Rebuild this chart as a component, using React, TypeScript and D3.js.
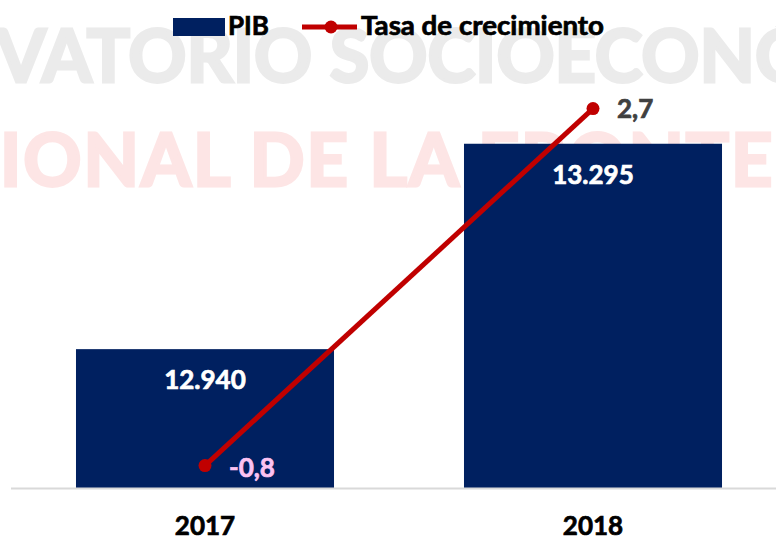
import React from "react";
import * as d3 from "d3";

// chart values
const years = ["2017", "2018"];
const pib = [12940, 13295];
const tasa = [-0.8, 2.7];
const pibLabels = ["12.940", "13.295"];
const tasaLabels = ["-0,8", "2,7"];

const W = 776;
const H = 539;
const FONT = "Lato, 'Open Sans', sans-serif";

const App = () => {
  const x = d3.scaleBand<string>()
    .domain(years)
    .range([11, 787])
    .paddingInner(0.335)
    .paddingOuter(0.1675);

  // primary axis (PIB), not zero based
  const y = d3.scaleLinear().domain([12700, 13400]).range([488, 83]);
  // secondary axis (growth rate)
  const y2 = d3.scaleLinear().domain([-1, 3]).range([486, 78]);

  const cx = (d: string) => (x(d) as number) + x.bandwidth() / 2;

  const line = d3.line<number>()
    .x((_, i) => cx(years[i]))
    .y((d) => y2(d));

  // heavier look for the bold labels
  const bold = (c: string) => ({ fill: c, stroke: c, strokeWidth: 0.7 });

  return (
    <svg width={W} height={H} style={{ position: "absolute", left: 0, top: 0, background: "#fff" }}>
      {/* watermark */}
      <g fontFamily={FONT} fontWeight={700} fontSize={72} strokeWidth={3}>
        <text y={82} fill="#ebebeb" stroke="#ebebeb">
          <tspan x={-4} textAnchor="end">OBSER</tspan>
          <tspan x={-4}>VATORIO SOCIOECONÓMICO</tspan>
        </text>
        <text y={186} fill="#fde5e5" stroke="#fde5e5" letterSpacing={2}>
          <tspan x={0} textAnchor="end">NAC</tspan>
          <tspan x={0}>IONAL DE LA FRONTERA</tspan>
        </text>
      </g>

      {/* bars */}
      {years.map((d, i) => (
        <rect key={d} x={x(d)} y={y(pib[i])} width={x.bandwidth()}
          height={y.range()[0] - y(pib[i])} fill="#002060" />
      ))}

      {/* axis line */}
      <line x1={11} x2={776} y1={488.5} y2={488.5} stroke="#d9d9d9" strokeWidth={2} />

      {/* bar labels */}
      {years.map((d, i) => (
        <text key={d} x={cx(d)} y={y(pib[i]) + 40} textAnchor="middle" {...bold("#fff")}
          fontFamily={FONT} fontWeight={700} fontSize={26}>{pibLabels[i]}</text>
      ))}

      {/* growth line */}
      <path d={line(tasa) ?? ""} fill="none" stroke="#c00000" strokeWidth={5} />
      {tasa.map((v, i) => (
        <circle key={i} cx={cx(years[i])} cy={y2(v)} r={6.5} fill="#c00000" />
      ))}
      {tasa.map((v, i) => (
        <text key={i} x={cx(years[i]) + 24} y={y2(v) + (i === 0 ? 11 : 9)}
          {...bold(i === 0 ? "#fcc2f2" : "#404040")}
          fontFamily={FONT} fontWeight={700} fontSize={26}>{tasaLabels[i]}</text>
      ))}

      {/* category labels */}
      {years.map((d) => (
        <text key={d} x={cx(d)} y={535} textAnchor="middle" {...bold("#000")}
          fontFamily={FONT} fontWeight={700} fontSize={26}>{d}</text>
      ))}

      {/* legend */}
      <g fontFamily={FONT} fontWeight={700} fontSize={26} {...bold("#000")}>
        <rect x={173} y={18} width={52} height={18} fill="#002060" stroke="none" />
        <text x={228} y={35}>PIB</text>
        <line x1={302} x2={357} y1={27} y2={27} stroke="#c00000" strokeWidth={5} />
        <circle cx={331} cy={27} r={6.5} fill="#c00000" stroke="none" />
        <text x={361} y={35} textLength={243} lengthAdjust="spacingAndGlyphs">Tasa de crecimiento</text>
      </g>
    </svg>
  );
};

export default App;
